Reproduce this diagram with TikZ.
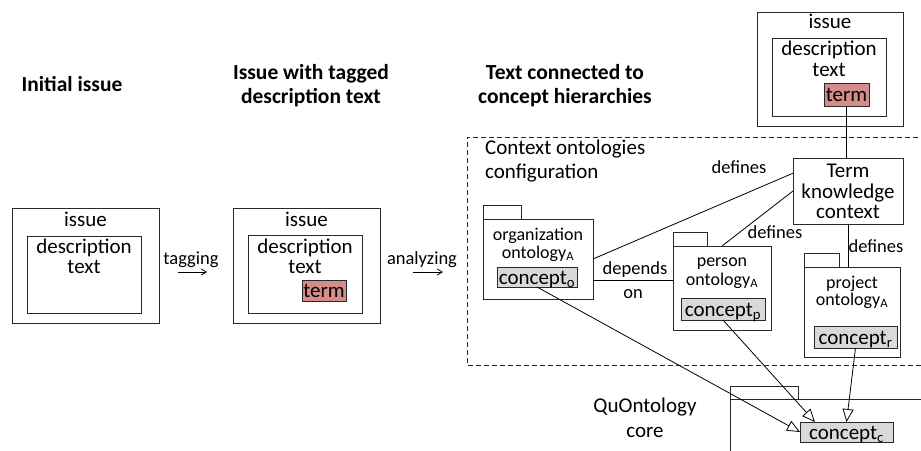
\documentclass[tikz,border=0pt]{standalone}
\usepackage{fontspec}
\setmainfont{Carlito}
\usetikzlibrary{arrows.meta,calc}
\definecolor{termred}{RGB}{214,140,136}
\definecolor{conceptgray}{RGB}{217,217,217}
\definecolor{linegray}{RGB}{40,40,40}
\begin{document}
\begin{tikzpicture}[x=1pt,y=-1pt,
  frame/.style={draw=linegray, line width=0.8pt, inner sep=0pt, outer sep=0pt, anchor=north west},
  termbox/.style={frame, fill=termred},
  conceptbox/.style={frame, fill=conceptgray},
  big/.style={font=\fontsize{21}{21}\selectfont, inner sep=0pt, anchor=base},
  small/.style={font=\fontsize{18.5}{18.5}\selectfont, inner sep=0pt, anchor=base},
  pkgtext/.style={font=\fontsize{18}{18}\selectfont, inner sep=0pt, anchor=base},
  title/.style={font=\fontsize{21.5}{21.5}\selectfont\bfseries, inner sep=0pt, anchor=base},
  conn/.style={draw=black, line width=0.8pt},
  flowarrow/.style={conn, -{Straight Barb[length=5pt,width=6pt]}},
  genarrow/.style={conn, -{Triangle[open,length=13pt,width=11pt,fill=white]}}]
\useasboundingbox (0,0) rectangle (921,450);

% titles
\node[title] (t1) at (72,91) {Initial issue};
\node[title] (t2a) at (311,79) {Issue with tagged};
\node[title] (t2b) at (311,103) {description text};
\node[title] (t3a) at (565,79) {Text connected to};
\node[title] (t3b) at (565,103) {concept hierarchies};

% box 1
\node[frame, minimum width=147pt, minimum height=115pt] (o1) at (12,208) {};
\node[frame, minimum width=114pt, minimum height=77pt] (i1) at (27,236) {};
\node[big] (is1) at (85.5,226) {issue};
\node[big] (d1) at (84,253) {description};
\node[big] (x1) at (84,273) {text};

% tagging
\node[small] (tag) at (191,264) {tagging};
\coordinate (ta1) at (178,272);
\coordinate (ta2) at (207,272);
\draw[flowarrow] (ta1) -- (ta2);

% box 2
\node[frame, minimum width=147pt, minimum height=115pt] (o2) at (233,208) {};
\node[frame, minimum width=114pt, minimum height=78pt] (i2) at (248,235) {};
\node[big] (is2) at (306.5,226) {issue};
\node[big] (d2) at (305,253) {description};
\node[big] (x2) at (305,273) {text};
\node[termbox, minimum width=44pt, minimum height=21pt] (term2) at (302,280) {};
\node[big] (tt2) at (324,297) {term};

% analyzing
\node[small] (ana) at (422,264) {analyzing};
\coordinate (an1) at (413,272);
\coordinate (an2) at (443,272);
\draw[flowarrow] (an1) -- (an2);

% dashed configuration region
\draw[line width=0.8pt, draw=linegray, dash pattern=on 5pt off 3pt] (926,137) -- (467,137) -- (467,365) -- (926,365);
\node[big, anchor=base west] (cfg1) at (485,154) {Context ontologies};
\node[big, anchor=base west] (cfg2) at (485,178) {configuration};

% top issue
\node[frame, minimum width=146pt, minimum height=114pt] (o3) at (757,12) {};
\node[frame, minimum width=114pt, minimum height=78pt] (i3) at (772,38) {};
\node[big] (is3) at (830,28) {issue};
\node[big] (d3) at (829,55) {description};
\node[big] (x3) at (829,76) {text};
\node[termbox, minimum width=45pt, minimum height=23pt] (term3) at (824,83) {};
\node[big] (tt3) at (846.5,101) {term};

% term knowledge context
\node[frame, minimum width=110pt, minimum height=66pt] (tkc) at (793,158) {};
\node[big] (tk1) at (848,177) {Term};
\node[big] (tk2) at (848,198) {knowledge};
\node[big] (tk3) at (848,218) {context};

% organization ontology
\node[frame, minimum width=38pt, minimum height=14pt] (orgtab) at (483,205) {};
\node[frame, minimum width=110pt, minimum height=80pt] (org) at (483,219) {};
\node[pkgtext] (org1) at (538,240) {organization};
\node[pkgtext] (org2) at (538,258) {ontology\textsubscript{A}};
\node[conceptbox, minimum width=80pt, minimum height=20pt] (co) at (497,267) {};
\node[big] (co1) at (537,284) {concept\textsubscript{o}};

% person ontology
\node[frame, minimum width=34pt, minimum height=14pt] (pertab) at (673,232) {};
\node[frame, minimum width=98pt, minimum height=84pt] (per) at (673,246) {};
\node[pkgtext] (per1) at (722,266) {person};
\node[pkgtext] (per2) at (722,285) {ontology\textsubscript{A}};
\node[conceptbox, minimum width=84pt, minimum height=22pt] (cp) at (681,298) {};
\node[big] (cp1) at (723,316) {concept\textsubscript{p}};

% project ontology
\node[frame, minimum width=35pt, minimum height=14pt] (protab) at (804,253) {};
\node[frame, minimum width=96pt, minimum height=90pt] (pro) at (804,267) {};
\node[pkgtext] (pro1) at (852,288) {project};
\node[pkgtext] (pro2) at (852,305) {ontology\textsubscript{A}};
\node[conceptbox, minimum width=83pt, minimum height=22pt] (cr) at (814,326) {};
\node[big] (cr1) at (855.5,344) {concept\textsubscript{r}};

% QuOntology core
\node[frame, minimum width=68pt, minimum height=13pt] (coretab) at (730,386) {};
\draw[line width=0.8pt, draw=linegray] (730,452) -- (730,399) -- (926,399);
\node[big] (q1) at (645,412) {QuOntology};
\node[big] (q2) at (645,437) {core};
\node[conceptbox, minimum width=93pt, minimum height=20pt] (cc) at (800,422) {};
\node[big] (cc1) at (846.5,439) {concept\textsubscript{c}};

% connectors
\draw[conn] (term3.south) -- (term3.south |- tkc.north);
\draw[conn] (org.east) -- ($(tkc.north west)!0.23!(tkc.south west)$);
\node[small] (def1) at (739,173) {defines};
\draw[conn] (per.north) -- (tkc.west);
\node[small] (def2) at (775,238) {defines};
\draw[conn] (tkc.south) -- (tkc.south |- pro.north);
\node[small] (def3) at (876,252) {defines};
\draw[conn] (org.east |- 0,280) -- (per.west |- 0,280);
\node[small] (dep1) at (635,274) {depends};
\node[small] (dep2) at (633,298) {on};

\draw[genarrow] (co.south) -- (cc.west);
\draw[genarrow] (cp.south) -- ($(cc.north west)+(15,0)$);
\draw[genarrow] (cr.south) -- (cc.north);
\end{tikzpicture}
\end{document}
